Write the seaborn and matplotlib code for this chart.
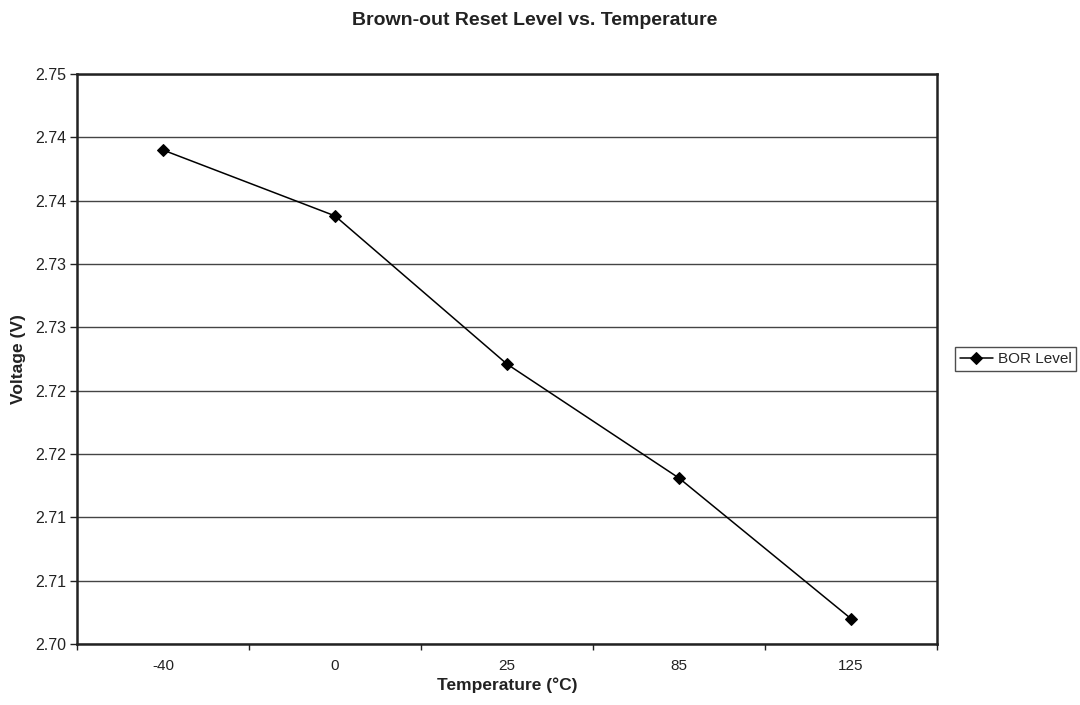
import matplotlib.pyplot as plt
import numpy as np
import pandas as pd
import seaborn as sns

# Date
temperaturi = ['-40', '0', '25', '85', '125']
tensiune_bor = [2.7390, 2.7338, 2.7221, 2.7131, 2.7020]
y_ticks = [2.700, 2.705, 2.710, 2.715, 2.720, 2.725, 2.730, 2.735, 2.740, 2.745]
y_tick_labels = ['2.70', '2.71', '2.71', '2.72', '2.72', '2.73', '2.73', '2.74', '2.74', '2.75']

df = pd.DataFrame({'Temperatura': temperaturi, 'Tensiune': tensiune_bor})

sns.set_theme(style='white')
plt.rcParams['font.family'] = ['Liberation Sans', 'DejaVu Sans']

fig = plt.figure(figsize=(10.8, 7.05), dpi=100)
ax = fig.add_axes([0.0713, 0.0865, 0.7963, 0.8085])

sns.lineplot(data=df, x='Temperatura', y='Tensiune', ax=ax, color='black',
             linewidth=1.1, marker='D', markersize=6, markeredgecolor='black',
             label='BOR Level', sort=False)

############ Axe si grila ######################
ax.set_xlim(-0.5, len(temperaturi) - 0.5)
ax.set_ylim(2.700, 2.745)
ax.set_yticks(y_ticks)
ax.set_yticklabels(y_tick_labels)
ax.set_xticks(np.arange(len(temperaturi)))
ax.set_xticklabels(temperaturi)
ax.set_xticks(np.arange(-0.5, len(temperaturi)), minor=True)
ax.tick_params(axis='x', which='major', length=0, pad=11, labelsize=11, colors='#222222')
ax.tick_params(axis='x', which='minor', direction='out', length=4.5, width=1, color='#222222', bottom=True)
ax.tick_params(axis='y', direction='out', length=5, width=1, left=True, labelsize=11.5,
               colors='#222222', pad=3)
ax.grid(axis='y', color='#444444', linewidth=1.0)
ax.grid(axis='x', visible=False)
ax.set_axisbelow(True)
for s in ax.spines.values():
    s.set_color('#222222')
    s.set_linewidth(1.8)

ax.set_xlabel('Temperature (°C)', fontsize=12.5, fontweight='bold', labelpad=3, color='#222222')
ax.set_ylabel('Voltage (V)', fontsize=12.5, fontweight='bold', labelpad=6, color='#222222')
fig.text(0.495, 0.971, 'Brown-out Reset Level vs. Temperature', ha='center', va='center',
         fontsize=14, fontweight='bold', color='#222222')

leg = ax.legend(loc='center left', bbox_to_anchor=(1.012, 0.5), frameon=True, fancybox=False,
                fontsize=11, handlelength=2.2, borderpad=0.3, handletextpad=0.3,
                edgecolor='#222222')
leg.get_frame().set_linewidth(1.0)

fig.savefig('out.png', dpi=100)
